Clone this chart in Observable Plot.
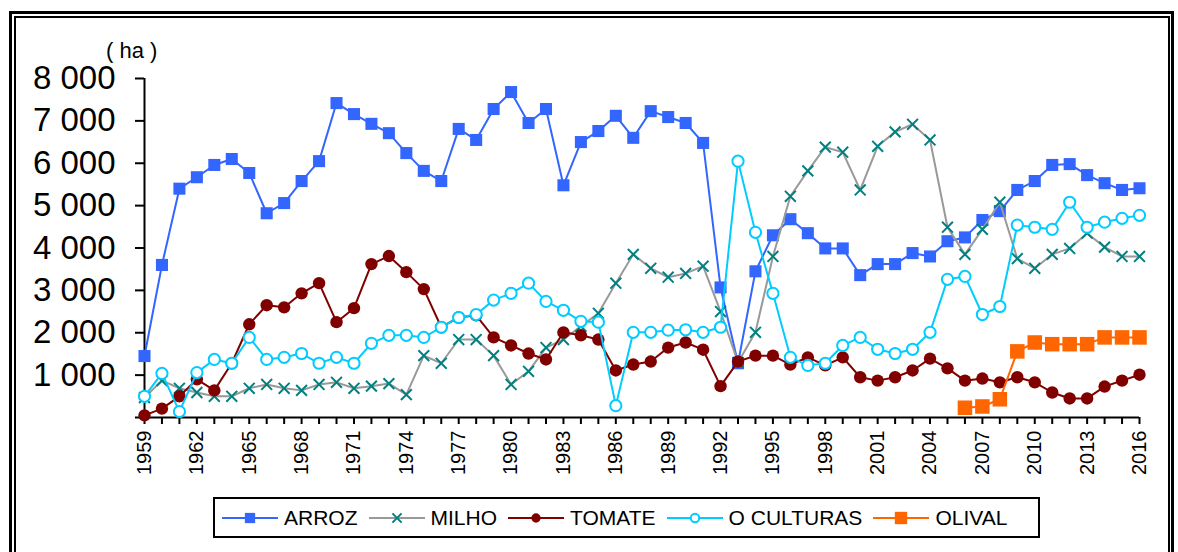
<!DOCTYPE html>
<html><head><meta charset="utf-8">
<script src="https://cdn.jsdelivr.net/npm/d3@7"></script>
<script src="https://cdn.jsdelivr.net/npm/@observablehq/plot@0.6"></script>
<style>
html,body{margin:0;padding:0;background:#fff;overflow:hidden;width:1178px;height:552px;font-family:"Liberation Sans",Arial,sans-serif;}
#outer{position:absolute;left:9px;top:11px;width:1159px;height:600px;border:3px solid #000;}
#inner{position:absolute;left:14px;top:16px;width:1152px;height:600px;border:2px solid #000;}
#chart{position:absolute;left:0;top:0;}
#unit{position:absolute;left:106px;top:38px;font-size:22px;color:#000;white-space:pre;}
#legend{position:absolute;left:213px;top:497px;width:827px;height:41px;box-sizing:border-box;border:2px solid #000;display:flex;align-items:center;padding-left:7px;background:#fff;}
.item{display:flex;align-items:center;margin-right:11px;}
.item span{font-size:21px;margin-left:6px;color:#000;}
</style></head>
<body>
<div id="outer"></div>
<div id="inner"></div>
<div id="chart"></div>
<div id="unit">( ha )</div>
<div id="legend"></div>
<script>
const years = [1959,1960,1961,1962,1963,1964,1965,1966,1967,1968,1969,1970,1971,1972,1973,1974,1975,1976,1977,1978,1979,1980,1981,1982,1983,1984,1985,1986,1987,1988,1989,1990,1991,1992,1993,1994,1995,1996,1997,1998,1999,2000,2001,2002,2003,2004,2005,2006,2007,2008,2009,2010,2011,2012,2013,2014,2015,2016];
const labelYears = [1959,1962,1965,1968,1971,1974,1977,1980,1983,1986,1989,1992,1995,1998,2001,2004,2007,2010,2013,2016];
const yTicks = [0,1000,2000,3000,4000,5000,6000,7000,8000];

const arroz = [1450,3600,5400,5670,5960,6100,5770,4820,5060,5580,
  6050,7420,7160,6930,6710,6240,5820,5580,6810,6550,
  7280,7680,6950,7280,5480,6500,6760,7120,6600,7230,
  7090,6950,6480,3070,1280,3450,4300,4680,4350,3990,
  3990,3360,3620,3620,3880,3800,4160,4250,4660,4870,
  5370,5580,5960,5980,5720,5530,5370,5410];
const milho = [470,870,690,590,500,500,690,780,690,640,
  780,830,690,740,800,540,1460,1280,1840,1840,
  1460,780,1090,1650,1840,2150,2460,3170,3850,3520,
  3310,3400,3570,2500,1300,2010,3800,5220,5820,6380,
  6260,5370,6400,6740,6920,6550,4490,3850,4440,5080,
  3750,3520,3850,3990,4350,4020,3800,3800];
const tomate = [50,210,500,900,640,1280,2200,2650,2600,2930,
  3170,2250,2580,3620,3810,3430,3030,2130,2360,2410,
  1890,1700,1510,1370,2010,1940,1840,1110,1250,1320,
  1650,1770,1600,740,1320,1460,1460,1250,1420,1230,
  1420,950,870,950,1110,1390,1160,870,920,830,
  950,830,590,450,450,730,870,1010];
const oculturas = [500,1040,140,1060,1370,1280,1890,1370,1420,1510,
  1280,1420,1280,1750,1940,1940,1890,2130,2360,2430,
  2770,2930,3170,2740,2530,2270,2250,280,2010,2010,
  2060,2070,2010,2130,6050,4370,2930,1420,1230,1280,
  1700,1890,1610,1510,1610,2010,3260,3330,2430,2620,
  4540,4490,4440,5080,4490,4610,4700,4770];
const olivalYears = [2006,2007,2008,2009,2010,2011,2012,2013,2014,2015,2016];
const olival = [230,260,430,1560,1770,1730,1730,1730,1890,1890,1890];

const names = ["ARROZ","MILHO","TOMATE","O CULTURAS","OLIVAL"];

const series = [
  {name:names[0], data: years.map((y,i)=>({year:y, value:arroz[i]})), line:"#3366ff", sym:"square", r:6.8, fill:"#3366ff", stroke:"none"},
  {name:names[1], data: years.map((y,i)=>({year:y, value:milho[i]})), line:"#999999", sym:"times", r:5, fill:"none", stroke:"#008080"},
  {name:names[2], data: years.map((y,i)=>({year:y, value:tomate[i]})), line:"#800000", sym:"circle", r:6.2, fill:"#800000", stroke:"none"},
  {name:names[3], data: years.map((y,i)=>({year:y, value:oculturas[i]})), line:"#00ccff", sym:"circle", r:5.6, fill:"#ffffff", stroke:"#00ccff"},
  {name:names[4], data: olivalYears.map((y,i)=>({year:y, value:olival[i]})), line:"#ff6600", sym:"square", r:8.2, fill:"#ff6600", stroke:"none"}
];

const fmt = d => d === 0 ? "" : d3.format(",")(d).replace(/,/g, " ");

const marks = [
  Plot.axisX({ticks: years, tickSize: 7, tickFormat: () => "", strokeWidth: 2, label: null}),
  Plot.text(labelYears, {x: d => d, y: 0, text: d => String(d), rotate: -90, textAnchor: "end", lineAnchor: "middle", dy: 13, fontSize: 20, fill: "#000"}),
  Plot.axisY({ticks: yTicks, tickSize: 9, tickPadding: 20, fontSize: 33, tickFormat: fmt, strokeWidth: 2, label: null}),
  Plot.ruleY([0], {strokeWidth: 2}),
  Plot.ruleX([1959], {y1: 0, y2: 8000, strokeWidth: 2})
];
for (const s of series) {
  marks.push(Plot.line(s.data, {x: "year", y: "value", stroke: s.line, strokeWidth: 2}));
  marks.push(Plot.dot(s.data, {x: "year", y: "value", symbol: s.sym, r: s.r, fill: s.fill, stroke: s.stroke, strokeWidth: 2}));
}

const chart = Plot.plot({
  width: 1178, height: 490,
  marginLeft: 144, marginRight: 39, marginTop: 78, marginBottom: 73,
  style: {background: "transparent", fontFamily: "'Liberation Sans', Arial, sans-serif", color: "#000"},
  x: {domain: [1959, 2016], label: null},
  y: {domain: [0, 8000], label: null},
  marks
});
document.getElementById("chart").appendChild(chart);

// legend
const legend = d3.select("#legend");
for (const s of series) {
  const item = legend.append("div").attr("class", "item");
  const svg = item.append("svg").attr("width", 56).attr("height", 20);
  svg.append("line").attr("x1", 0).attr("x2", 56).attr("y1", 10).attr("y2", 10).attr("stroke", s.line).attr("stroke-width", 2);
  const symType = s.sym === "square" ? d3.symbolSquare : s.sym === "times" ? d3.symbolTimes : d3.symbolCircle;
  const rr = s.sym === "circle" ? s.r * 0.75 : s.r * 0.85;
  svg.append("path").attr("transform", "translate(28,10)")
    .attr("d", d3.symbol(symType, rr * rr * Math.PI)())
    .attr("fill", s.fill).attr("stroke", s.stroke).attr("stroke-width", 2);
  item.append("span").text(s.name);
}
</script>
</body></html>
